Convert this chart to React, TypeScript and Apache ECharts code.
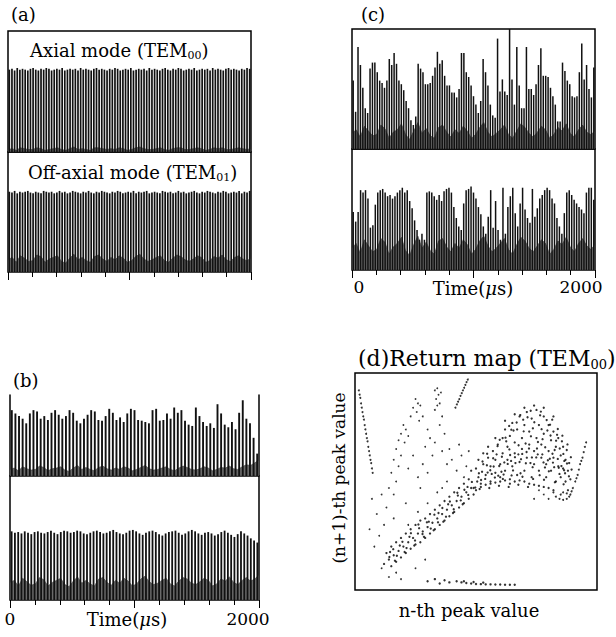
import React, { useEffect, useRef } from "react";
import * as echarts from "echarts";

const SERIF = "'DejaVu Serif', 'Liberation Serif', serif";

// ---------------- data ----------------
// (a) axial mode TEM00 : peak heights of the periodic spike train
const A1_PEAKS = [
  0.98, 0.99, 0.97, 1.0, 0.98, 0.99, 0.98, 0.97, 0.99, 1.0,
  0.98, 0.97, 0.99, 0.98, 1.0, 0.99, 0.97, 0.98, 0.99, 0.98,
  1.0, 0.97, 0.98, 0.99, 0.98, 0.99, 0.97, 1.0, 0.98, 0.99,
  0.98, 0.97, 0.99, 1.0, 0.98, 0.99, 0.98, 0.97, 0.99, 0.98,
  1.0, 0.99, 0.97, 0.98, 0.99, 0.98, 1.0, 0.97, 0.98, 0.99,
  0.98, 0.99, 0.97, 1.0, 0.98, 0.99, 0.98, 0.97, 0.99, 1.0,
  0.98, 0.97, 0.99, 0.98, 1.0, 0.99, 0.97, 0.98, 0.99, 0.98,
  1.0, 0.97, 0.98, 0.99, 0.98, 0.99, 0.97, 1.0, 0.98, 0.99,
  0.98, 0.97, 0.99, 1.0, 0.98, 0.99, 0.98, 0.97, 0.99, 0.98,
  1.0, 0.99,
];
const A1_FLOOR = [
  0.03, 0.04, 0.02, 0.05, 0.04, 0.03, 0.03, 0.05, 0.04, 0.02, 0.03, 0.04, 0.05, 0.03, 0.02,
  0.04, 0.06, 0.03, 0.04, 0.03, 0.02, 0.05, 0.05, 0.04, 0.03, 0.04, 0.03, 0.05, 0.04, 0.02,
  0.03, 0.05, 0.06, 0.04, 0.03, 0.03, 0.04, 0.05, 0.03, 0.02, 0.04, 0.05, 0.05, 0.03, 0.03,
  0.04, 0.05, 0.04, 0.02, 0.03, 0.05, 0.04, 0.05, 0.03, 0.03, 0.04, 0.05, 0.04, 0.03, 0.04,
];
// (a) off-axial mode TEM01
const A2_PEAKS = [
  0.99, 0.98, 1.0, 0.97, 0.99, 0.98, 0.99, 1.0, 0.98, 0.97,
  0.99, 0.98, 0.97, 1.0, 0.99, 0.98, 0.99, 0.97, 0.98, 1.0,
  0.98, 0.99, 0.97, 0.98, 1.0, 0.99, 0.98, 0.97, 0.99, 0.98,
  1.0, 0.98, 0.97, 0.99, 0.98, 1.0, 0.99, 0.98, 0.97, 0.99,
  0.98, 1.0, 0.99, 0.97, 0.98, 0.99, 0.98, 1.0, 0.97, 0.99,
  0.98, 0.99, 1.0, 0.97, 0.98, 0.99, 0.98, 0.97, 1.0, 0.99,
  0.98, 0.99, 0.97, 0.98, 1.0, 0.98, 0.99, 0.97, 0.98, 0.99,
  1.0, 0.98, 0.97, 0.99, 0.98, 1.0, 0.99, 0.98, 0.97, 0.99,
  0.98, 1.0, 0.99, 0.97, 0.98, 0.99, 0.98, 1.0, 0.97, 0.99,
  0.98, 1.0,
];
const A2_FLOOR = [
  0.15, 0.18, 0.12, 0.2, 0.17, 0.13, 0.14, 0.21, 0.19, 0.12, 0.16, 0.18, 0.2, 0.13, 0.11,
  0.17, 0.22, 0.15, 0.18, 0.14, 0.12, 0.19, 0.21, 0.16, 0.13, 0.18, 0.15, 0.2, 0.17, 0.12,
  0.14, 0.19, 0.22, 0.16, 0.13, 0.15, 0.18, 0.2, 0.14, 0.12, 0.17, 0.21, 0.19, 0.15, 0.13,
  0.16, 0.2, 0.18, 0.12, 0.14, 0.19, 0.17, 0.21, 0.15, 0.13, 0.18, 0.2, 0.16, 0.14, 0.17,
];
// (b) upper trace
const B1_PEAKS = [
  1.0, 0.95, 0.91, 0.87, 0.8, 0.95, 1.0, 0.98, 0.87, 0.91, 0.85, 0.96, 1.0, 0.93,
  0.87, 0.91, 1.0, 0.96, 0.84, 0.8, 0.87, 0.93, 1.0, 0.98, 0.85, 0.84, 0.91, 1.02,
  0.96, 0.85, 0.89, 0.82, 0.95, 1.02, 1.0, 0.85, 0.84, 0.82, 0.8, 1.0, 1.02, 0.84,
  0.85, 0.95, 0.87, 1.04, 0.96, 1.0, 0.84, 0.78, 0.76, 1.04, 0.91, 0.82, 0.76, 0.8,
  0.73, 1.09, 0.95, 0.78, 0.74, 0.82, 0.71, 0.96, 1.15, 0.87, 0.8, 0.58, 0.34,
];
const B1_FLOOR = [
  0.1, 0.12, 0.08, 0.14, 0.11, 0.09, 0.1, 0.15, 0.13, 0.08, 0.11, 0.12, 0.14, 0.09, 0.07,
  0.12, 0.16, 0.1, 0.13, 0.1, 0.08, 0.13, 0.15, 0.11, 0.09, 0.12, 0.1, 0.14, 0.12, 0.08,
  0.1, 0.13, 0.16, 0.11, 0.09, 0.1, 0.12, 0.14, 0.1, 0.08, 0.12, 0.15, 0.13, 0.1, 0.09,
  0.11, 0.14, 0.12, 0.08, 0.1, 0.13, 0.12, 0.15, 0.11, 0.1, 0.14, 0.17, 0.16, 0.2, 0.24,
];
// (b) lower trace
const B2_PEAKS = [
  0.98, 0.96, 0.97, 0.95, 0.98, 0.96, 0.94, 0.97, 0.98, 0.96, 0.95, 0.97, 0.99, 0.96,
  0.94, 0.97, 0.99, 0.98, 0.96, 0.97, 0.99, 0.98, 0.95, 0.94, 0.96, 0.98, 0.99, 0.97,
  0.95, 0.96, 0.98, 1.0, 0.97, 0.95, 0.94, 0.96, 0.99, 1.0, 0.98, 0.95, 0.93, 0.96,
  0.98, 0.99, 0.97, 0.94, 0.92, 0.95, 0.97, 0.98, 0.99, 0.96, 0.93, 0.95, 0.98, 1.0,
  0.98, 0.95, 0.93, 0.96, 0.97, 0.95, 0.92, 0.94, 0.97, 0.99, 0.96, 0.93, 0.9, 0.94,
  0.98, 0.95, 0.92, 0.88, 0.85, 0.82,
];
const B2_FLOOR = [
  0.25, 0.28, 0.2, 0.31, 0.26, 0.21, 0.23, 0.32, 0.29, 0.2, 0.25, 0.28, 0.31, 0.22, 0.19,
  0.27, 0.33, 0.24, 0.28, 0.23, 0.2, 0.3, 0.32, 0.25, 0.21, 0.28, 0.24, 0.31, 0.27, 0.2,
  0.23, 0.3, 0.34, 0.26, 0.22, 0.24, 0.28, 0.31, 0.23, 0.2, 0.27, 0.32, 0.3, 0.24, 0.22,
  0.26, 0.31, 0.28, 0.2, 0.23, 0.3, 0.27, 0.33, 0.25, 0.22, 0.28, 0.32, 0.27, 0.3, 0.36,
];
// (c) upper trace (chaotic)
const C1_PEAKS = [
  0.57, 0.31, 0.85, 0.7, 0.51, 0.34, 0.3, 0.67, 0.72, 0.72, 0.64, 0.57, 0.55, 0.51,
  0.57, 0.75, 0.7, 0.8, 0.71, 0.57, 0.54, 0.49, 0.4, 0.34, 0.24, 0.2, 0.27, 0.71,
  0.67, 0.64, 0.54, 0.54, 0.55, 0.61, 0.68, 0.81, 0.71, 0.74, 0.61, 0.53, 0.53, 0.47,
  0.47, 0.43, 0.5, 0.8, 0.8, 0.64, 0.6, 0.53, 0.44, 0.37, 0.3, 0.4, 0.75, 0.64,
  0.53, 0.37, 0.28, 0.26, 0.92, 0.48, 0.58, 0.48, 0.45, 1.0, 0.58, 0.37, 0.85, 0.53,
  0.34, 0.34, 0.85, 0.5, 0.5, 0.45, 0.54, 0.7, 0.84, 0.61, 0.61, 0.6, 0.51, 0.44,
  0.37, 0.23, 0.23, 0.72, 0.65, 0.57, 0.54, 0.44, 0.43, 0.44, 0.64, 0.88, 0.58, 0.7,
  0.5, 0.43, 0.68,
];
const C1_FLOOR = [
  0.13, 0.16, 0.1, 0.19, 0.15, 0.11, 0.12, 0.2, 0.17, 0.09, 0.14, 0.16, 0.21, 0.12, 0.08,
  0.15, 0.22, 0.13, 0.17, 0.11, 0.09, 0.18, 0.2, 0.14, 0.1, 0.16, 0.13, 0.19, 0.15, 0.09,
  0.12, 0.18, 0.22, 0.14, 0.1, 0.13, 0.16, 0.2, 0.12, 0.09, 0.15, 0.21, 0.18, 0.13, 0.1,
  0.14, 0.19, 0.16, 0.09, 0.12, 0.18, 0.15, 0.21, 0.13, 0.1, 0.16, 0.2, 0.14, 0.12, 0.15,
];
// (c) lower trace
const C2_PEAKS = [
  0.48, 0.4, 0.48, 0.66, 0.64, 0.66, 0.59, 0.35, 0.37, 0.54, 0.64, 0.66, 0.67, 0.64,
  0.61, 0.62, 0.59, 0.61, 0.64, 0.66, 0.68, 0.64, 0.66, 0.57, 0.51, 0.41, 0.33, 0.25,
  0.3, 0.25, 0.64, 0.65, 0.64, 0.61, 0.58, 0.62, 0.57, 0.65, 0.67, 0.68, 0.64, 0.52,
  0.43, 0.36, 0.33, 0.55, 0.66, 0.67, 0.69, 0.64, 0.59, 0.52, 0.46, 0.36, 0.3, 0.44,
  0.66, 0.35, 0.57, 0.33, 0.25, 0.68, 0.3, 0.52, 0.61, 0.68, 0.47, 0.36, 0.55, 0.68,
  0.5, 0.43, 0.39, 0.67, 0.44, 0.51, 0.59, 0.62, 0.66, 0.68, 0.66, 0.59, 0.55, 0.43,
  0.36, 0.3, 0.47, 0.64, 0.66, 0.62, 0.58, 0.55, 0.52, 0.5, 0.47, 0.64, 0.68, 0.68,
  0.58,
];
const C2_FLOOR = [
  0.18, 0.22, 0.14, 0.25, 0.2, 0.15, 0.17, 0.26, 0.23, 0.13, 0.19, 0.22, 0.27, 0.16, 0.12,
  0.21, 0.28, 0.18, 0.23, 0.16, 0.13, 0.24, 0.26, 0.19, 0.15, 0.22, 0.18, 0.25, 0.21, 0.13,
  0.17, 0.24, 0.28, 0.2, 0.15, 0.18, 0.22, 0.26, 0.17, 0.13, 0.21, 0.27, 0.24, 0.18, 0.15,
  0.2, 0.25, 0.22, 0.13, 0.17, 0.24, 0.21, 0.27, 0.19, 0.15, 0.22, 0.26, 0.2, 0.17, 0.21,
];

// time axis
const TIME_RANGE = [0, 2000];
const TIME_STEP = 200;
const TIME_MAJOR = 1000;
const TIME_TICK_LABELS = ["0", "2000"];

// (d) return map: [n-th peak, (n+1)-th peak], both normalised 0..1
const RETURN_LEFT_STREAK = [
  [0.016, 0.92], [0.019, 0.9], [0.022, 0.885], [0.025, 0.86], [0.028, 0.84], [0.031, 0.82],
  [0.034, 0.8], [0.037, 0.785], [0.04, 0.76], [0.043, 0.74], [0.046, 0.72], [0.049, 0.7],
  [0.052, 0.685], [0.055, 0.66], [0.058, 0.64], [0.061, 0.62], [0.064, 0.6], [0.067, 0.585],
  [0.07, 0.56], [0.073, 0.54],
];
const RETURN_TOP_STREAK = [
  [0.415, 0.84], [0.421, 0.855], [0.426, 0.868], [0.431, 0.88], [0.436, 0.895], [0.441, 0.907],
  [0.446, 0.92], [0.451, 0.932], [0.456, 0.945], [0.461, 0.958], [0.466, 0.97],
];
const RETURN_FAN = [
  [0.33, 0.92], [0.34, 0.93], [0.345, 0.9], [0.335, 0.88], [0.35, 0.86], [0.34, 0.85],
  [0.355, 0.91], [0.33, 0.83], [0.36, 0.8], [0.35, 0.76], [0.25, 0.88], [0.26, 0.86],
  [0.24, 0.84], [0.27, 0.85], [0.255, 0.82], [0.23, 0.8], [0.28, 0.8], [0.265, 0.78],
  [0.2, 0.76], [0.21, 0.74], [0.19, 0.72], [0.22, 0.71], [0.18, 0.69], [0.205, 0.68],
  [0.17, 0.65], [0.19, 0.62], [0.16, 0.6], [0.18, 0.57], [0.15, 0.54], [0.17, 0.5],
  [0.14, 0.47], [0.16, 0.44], [0.3, 0.74], [0.31, 0.7], [0.29, 0.66], [0.32, 0.62],
  [0.28, 0.58], [0.3, 0.54], [0.26, 0.52], [0.33, 0.68], [0.36, 0.64], [0.24, 0.62],
  [0.22, 0.56], [0.27, 0.47], [0.37, 0.72], [0.38, 0.58], [0.38, 0.5], [0.42, 0.55],
  [0.4, 0.6], [0.44, 0.62], [0.46, 0.57], [0.36, 0.47], [0.43, 0.67], [0.47, 0.64],
  [0.39, 0.65], [0.45, 0.52],
];
const RETURN_BAND_LOWER = [
  [0.12, 0.12], [0.13, 0.17], [0.14, 0.14], [0.15, 0.2], [0.15, 0.11], [0.16, 0.16],
  [0.17, 0.22], [0.17, 0.13], [0.18, 0.18], [0.19, 0.24], [0.19, 0.15], [0.2, 0.2],
  [0.21, 0.26], [0.21, 0.17], [0.22, 0.22], [0.23, 0.28], [0.23, 0.19], [0.24, 0.24],
  [0.25, 0.3], [0.25, 0.21], [0.26, 0.26], [0.27, 0.32], [0.27, 0.22], [0.28, 0.27],
  [0.29, 0.33], [0.29, 0.24], [0.3, 0.29], [0.31, 0.35], [0.31, 0.26], [0.32, 0.31],
  [0.33, 0.37], [0.33, 0.28], [0.34, 0.33], [0.35, 0.39], [0.35, 0.3], [0.36, 0.35],
  [0.37, 0.41], [0.37, 0.32], [0.38, 0.37], [0.39, 0.43], [0.39, 0.34], [0.4, 0.39],
  [0.41, 0.45], [0.41, 0.36], [0.42, 0.41], [0.43, 0.47], [0.43, 0.38], [0.44, 0.43],
  [0.45, 0.49], [0.45, 0.4], [0.46, 0.45], [0.47, 0.51], [0.47, 0.42], [0.48, 0.47],
  [0.49, 0.44], [0.145, 0.175], [0.185, 0.205], [0.225, 0.245], [0.265, 0.285],
  [0.305, 0.315], [0.345, 0.355], [0.385, 0.395], [0.425, 0.435], [0.465, 0.475],
  [0.165, 0.135], [0.205, 0.175], [0.245, 0.205], [0.285, 0.245], [0.325, 0.275],
  [0.365, 0.315], [0.405, 0.355], [0.445, 0.395], [0.142, 0.152], [0.158, 0.188],
  [0.173, 0.158], [0.196, 0.222], [0.213, 0.193], [0.231, 0.262], [0.248, 0.228],
  [0.262, 0.302], [0.279, 0.258], [0.297, 0.312], [0.313, 0.283], [0.328, 0.347],
  [0.343, 0.312], [0.361, 0.378], [0.376, 0.338], [0.392, 0.408], [0.408, 0.372],
  [0.423, 0.448], [0.437, 0.413], [0.452, 0.462], [0.468, 0.438], [0.483, 0.498],
  [0.497, 0.472],
];
const RETURN_SPARSE = [
  [0.1, 0.25], [0.12, 0.3], [0.08, 0.2], [0.11, 0.1], [0.14, 0.06], [0.17, 0.08],
  [0.09, 0.35], [0.13, 0.38], [0.06, 0.28], [0.19, 0.05], [0.22, 0.3], [0.16, 0.33],
  [0.07, 0.42], [0.11, 0.44], [0.26, 0.36], [0.3, 0.4], [0.34, 0.45], [0.21, 0.4],
  [0.25, 0.1], [0.29, 0.14], [0.78, 0.44], [0.8, 0.42], [0.76, 0.46], [0.74, 0.42],
];
const RETURN_CLOUD = [
  [0.49, 0.47], [0.51, 0.52], [0.5, 0.56], [0.52, 0.49], [0.53, 0.58], [0.54, 0.53],
  [0.55, 0.61], [0.56, 0.5], [0.56, 0.57], [0.57, 0.64], [0.58, 0.54], [0.58, 0.6],
  [0.59, 0.67], [0.6, 0.52], [0.6, 0.58], [0.61, 0.63], [0.61, 0.7], [0.62, 0.55],
  [0.62, 0.74], [0.63, 0.6], [0.63, 0.66], [0.64, 0.51], [0.64, 0.71], [0.65, 0.57],
  [0.65, 0.77], [0.66, 0.63], [0.66, 0.68], [0.67, 0.53], [0.67, 0.74], [0.68, 0.59],
  [0.68, 0.8], [0.69, 0.65], [0.69, 0.7], [0.7, 0.55], [0.7, 0.76], [0.71, 0.61],
  [0.71, 0.82], [0.72, 0.67], [0.72, 0.73], [0.73, 0.52], [0.73, 0.79], [0.74, 0.58],
  [0.74, 0.64], [0.75, 0.7], [0.75, 0.83], [0.76, 0.55], [0.76, 0.76], [0.77, 0.61],
  [0.77, 0.67], [0.78, 0.72], [0.78, 0.8], [0.79, 0.52], [0.79, 0.58], [0.8, 0.64],
  [0.8, 0.76], [0.81, 0.69], [0.81, 0.55], [0.82, 0.61], [0.82, 0.73], [0.83, 0.5],
  [0.83, 0.66], [0.84, 0.57], [0.84, 0.7], [0.85, 0.62], [0.85, 0.52], [0.86, 0.66],
  [0.86, 0.56], [0.87, 0.6], [0.87, 0.5], [0.88, 0.55], [0.88, 0.46], [0.89, 0.51],
  [0.505, 0.5], [0.525, 0.545], [0.545, 0.575], [0.565, 0.535], [0.585, 0.625],
  [0.605, 0.545], [0.625, 0.685], [0.645, 0.595], [0.655, 0.735], [0.675, 0.625],
  [0.695, 0.785], [0.705, 0.675], [0.725, 0.585], [0.735, 0.745], [0.755, 0.625],
  [0.765, 0.805], [0.775, 0.695], [0.785, 0.565], [0.795, 0.735], [0.805, 0.605],
  [0.815, 0.785], [0.825, 0.645], [0.835, 0.715], [0.845, 0.535], [0.855, 0.685],
  [0.865, 0.595], [0.875, 0.645], [0.885, 0.585], [0.895, 0.555], [0.62, 0.78],
  [0.66, 0.81], [0.7, 0.84], [0.74, 0.85], [0.78, 0.84], [0.82, 0.8], [0.58, 0.7],
  [0.55, 0.66], [0.53, 0.63], [0.51, 0.6], [0.48, 0.55], [0.5, 0.46], [0.52, 0.475],
  [0.54, 0.485], [0.56, 0.49], [0.58, 0.495], [0.6, 0.5], [0.62, 0.505], [0.64, 0.49],
  [0.66, 0.5], [0.68, 0.505], [0.7, 0.5], [0.72, 0.49], [0.74, 0.485], [0.76, 0.48],
  [0.78, 0.475], [0.8, 0.47], [0.82, 0.46], [0.515, 0.465], [0.555, 0.47], [0.595, 0.48],
  [0.635, 0.475], [0.675, 0.485], [0.715, 0.475],
];
const RETURN_CLOUD_CORE = [
  [0.512, 0.538], [0.527, 0.592], [0.538, 0.512], [0.546, 0.628], [0.559, 0.552],
  [0.571, 0.607], [0.578, 0.518], [0.589, 0.663], [0.596, 0.571], [0.607, 0.614],
  [0.614, 0.532], [0.622, 0.702], [0.631, 0.581], [0.638, 0.648], [0.646, 0.739],
  [0.653, 0.551], [0.661, 0.612], [0.668, 0.772], [0.676, 0.667], [0.684, 0.538],
  [0.691, 0.627], [0.697, 0.731], [0.706, 0.584], [0.713, 0.796], [0.719, 0.652],
  [0.727, 0.708], [0.734, 0.566], [0.741, 0.773], [0.749, 0.611], [0.756, 0.682],
  [0.763, 0.529], [0.771, 0.741], [0.779, 0.588], [0.786, 0.658], [0.792, 0.783],
  [0.801, 0.547], [0.808, 0.712], [0.816, 0.628], [0.823, 0.566], [0.831, 0.688],
  [0.838, 0.604], [0.846, 0.652], [0.853, 0.571], [0.861, 0.627], [0.868, 0.538],
  [0.876, 0.583], [0.884, 0.524], [0.521, 0.507], [0.548, 0.541], [0.573, 0.569],
  [0.592, 0.527], [0.617, 0.588], [0.641, 0.622], [0.663, 0.585], [0.686, 0.603],
  [0.709, 0.636], [0.731, 0.611], [0.752, 0.652], [0.774, 0.625], [0.797, 0.598],
  [0.818, 0.587], [0.842, 0.563], [0.864, 0.552], [0.611, 0.512], [0.647, 0.528],
  [0.692, 0.522], [0.736, 0.512], [0.781, 0.508], [0.826, 0.496], [0.862, 0.487],
  [0.598, 0.692], [0.637, 0.756], [0.683, 0.806], [0.726, 0.826], [0.768, 0.822],
  [0.806, 0.762], [0.838, 0.742], [0.857, 0.711], [0.878, 0.671], [0.892, 0.612],
];
const RETURN_HOOK = [
  [0.82, 0.45], [0.83, 0.43], [0.845, 0.42], [0.86, 0.415], [0.875, 0.42], [0.885, 0.43],
  [0.875, 0.445], [0.86, 0.45], [0.85, 0.44], [0.89, 0.44], [0.9, 0.47], [0.91, 0.5],
  [0.92, 0.53], [0.925, 0.555], [0.93, 0.58], [0.94, 0.61], [0.945, 0.635], [0.95, 0.66],
  [0.955, 0.68], [0.895, 0.455], [0.915, 0.515], [0.935, 0.595],
];
const RETURN_BOTTOM = [
  [0.42, 0.04], [0.44, 0.035], [0.46, 0.032], [0.48, 0.03], [0.5, 0.028], [0.52, 0.027],
  [0.54, 0.026], [0.56, 0.026], [0.58, 0.025], [0.6, 0.025], [0.62, 0.024], [0.64, 0.024],
  [0.66, 0.024], [0.45, 0.04], [0.49, 0.037], [0.53, 0.034], [0.3, 0.04], [0.33, 0.05],
  [0.35, 0.03], [0.37, 0.045], [0.39, 0.035],
];

// ---------------- layout ----------------
type Panel = {
  grid: { left: number; top: number; width: number; height: number };
  peaks: number[];
  floor: number[];
  yMax: number;
  barWidth: number;
  frame: "full" | "sides";
  ticks?: boolean;
  labels?: { margin: number; first: number[]; last: number[] };
};

const PANELS: Panel[] = [
  { grid: { left: 8, top: 31, width: 243, height: 121 }, peaks: A1_PEAKS, floor: A1_FLOOR, yMax: 1.44, barWidth: 1.7, frame: "full" },
  { grid: { left: 8, top: 152, width: 243, height: 120 }, peaks: A2_PEAKS, floor: A2_FLOOR, yMax: 1.48, barWidth: 1.7, frame: "full", ticks: true },
  { grid: { left: 10, top: 395, width: 249, height: 81 }, peaks: B1_PEAKS, floor: B1_FLOOR, yMax: 1.23, barWidth: 1.9, frame: "sides" },
  { grid: { left: 10, top: 476, width: 249, height: 124 }, peaks: B2_PEAKS, floor: B2_FLOOR, yMax: 1.77, barWidth: 1.8, frame: "full", ticks: true, labels: { margin: 10, first: [0, 0, 0, 0], last: [0, 22, 0, 0] } },
  { grid: { left: 352, top: 29, width: 243, height: 120 }, peaks: C1_PEAKS, floor: C1_FLOOR, yMax: 1.0, barWidth: 1.5, frame: "full" },
  { grid: { left: 352, top: 149, width: 243, height: 121 }, peaks: C2_PEAKS, floor: C2_FLOOR, yMax: 1.0, barWidth: 1.5, frame: "full", ticks: true, labels: { margin: 8, first: [0, 0, 0, 14], last: [0, 28, 0, 0] } },
];

function sub(main: string, subscript: string, tail: string, size: number) {
  return {
    text: `{m|${main}}{s|${subscript}}{m|${tail}}`,
    rich: {
      m: { fontSize: size, fontFamily: SERIF, fill: "#000", color: "#000", lineHeight: size + 4 },
      s: { fontSize: Math.round(size * 0.6), fontFamily: SERIF, fill: "#000", color: "#000", lineHeight: Math.round(size * 0.6), verticalAlign: "bottom" },
    },
  };
}

function textEl(x: number, y: number, style: any, align = "left", rotation = 0) {
  return {
    type: "text",
    x,
    y,
    rotation,
    silent: true,
    style: { fill: "#000", align, verticalAlign: "middle", textAlign: align, textVerticalAlign: "middle", ...style },
  };
}

function timeLabel(x: number, y: number) {
  return textEl(x, y, {
    text: "{n|Time(}{i|μ}{n|s)}",
    rich: {
      n: { fontSize: 18, fontFamily: SERIF, fill: "#000", color: "#000" },
      i: { fontSize: 18, fontFamily: SERIF, fontStyle: "italic", fill: "#000", color: "#000" },
    },
  }, "center");
}

function buildOption() {
  const grid: any[] = [];
  const xAxis: any[] = [];
  const yAxis: any[] = [];
  const series: any[] = [];

  PANELS.forEach((p, gi) => {
    grid.push({ ...p.grid, show: p.frame === "full", borderColor: "#000", borderWidth: 1.5, backgroundColor: "rgba(0,0,0,0)" });
    const sx = xAxis.length;
    xAxis.push({ type: "category", gridIndex: gi, data: p.peaks.map((_, i) => i), show: false, boundaryGap: true });
    const fx = xAxis.length;
    xAxis.push({ type: "category", gridIndex: gi, data: p.floor.map((_, i) => i), show: false, boundaryGap: false });
    if (p.ticks) {
      xAxis.push({
        type: "value", gridIndex: gi, position: "bottom", min: TIME_RANGE[0], max: TIME_RANGE[1], interval: TIME_STEP,
        axisLine: { show: false }, axisTick: { show: true, length: 5, lineStyle: { color: "#000", width: 1 } },
        axisLabel: { show: false }, splitLine: { show: false },
      });
      const lab = p.labels;
      xAxis.push({
        type: "value", gridIndex: gi, position: "bottom", min: TIME_RANGE[0], max: TIME_RANGE[1], interval: TIME_MAJOR,
        axisLine: { show: false }, axisTick: { show: true, length: 8, lineStyle: { color: "#000", width: 1 } },
        splitLine: { show: false },
        axisLabel: lab
          ? {
              show: true, margin: lab.margin, showMinLabel: true, showMaxLabel: true,
              formatter: (v: number) =>
                v === TIME_RANGE[0] ? `{f|${TIME_TICK_LABELS[0]}}` : v === TIME_RANGE[1] ? `{l|${TIME_TICK_LABELS[1]}}` : "",
              rich: {
                f: { fontSize: 17, fontFamily: SERIF, color: "#000", padding: lab.first },
                l: { fontSize: 17, fontFamily: SERIF, color: "#000", padding: lab.last },
              },
            }
          : { show: false },
      });
    }
    const yi = yAxis.length;
    const sides = p.frame === "sides";
    const yBase = {
      type: "value", gridIndex: gi, min: 0, max: p.yMax, show: sides,
      axisLine: { show: true, onZero: false, lineStyle: { color: "#000", width: 1.5 } },
      axisTick: { show: false }, axisLabel: { show: false }, splitLine: { show: false },
    };
    yAxis.push({ ...yBase, position: "left" });
    if (sides) yAxis.push({ ...yBase, position: "right" });

    series.push({
      type: "line", xAxisIndex: fx, yAxisIndex: yi, data: p.floor, symbol: "none", silent: true, z: 1,
      lineStyle: { color: "#444", width: 0.6 }, areaStyle: { color: "#5a5a5a", opacity: 0.9 },
    });
    series.push({
      type: "bar", xAxisIndex: sx, yAxisIndex: yi, data: p.peaks, barWidth: p.barWidth, silent: true, z: 2,
      itemStyle: { color: "#111" },
    });
  });

  // (d) return map
  const dg = grid.length;
  grid.push({ left: 355, top: 373, width: 242, height: 217, show: true, borderColor: "#000", borderWidth: 1.5, backgroundColor: "rgba(0,0,0,0)" });
  const dx = xAxis.length;
  xAxis.push({ type: "value", gridIndex: dg, min: 0, max: 1, show: false, splitLine: { show: false } });
  const dy = yAxis.length;
  yAxis.push({ type: "value", gridIndex: dg, min: 0, max: 1, show: false, splitLine: { show: false } });
  const scatterSets: [number[][], number][] = [
    [RETURN_LEFT_STREAK, 2],
    [RETURN_TOP_STREAK, 2],
    [RETURN_FAN, 1.8],
    [RETURN_SPARSE, 1.8],
    [RETURN_BAND_LOWER, 2.3],
    [RETURN_CLOUD, 2.3],
    [RETURN_CLOUD_CORE, 2.3],
    [RETURN_HOOK, 2],
    [RETURN_BOTTOM, 2.4],
  ];
  scatterSets.forEach(([data, size]) => {
    series.push({
      type: "scatter", xAxisIndex: dx, yAxisIndex: dy, data, symbol: "circle", symbolSize: size, silent: true,
      itemStyle: { color: "#000" },
    });
  });

  const graphic = [
    textEl(11, 14, { text: "(a)", fontSize: 18, fontFamily: SERIF }),
    textEl(361, 14, { text: "(c)", fontSize: 18, fontFamily: SERIF }),
    textEl(13, 380, { text: "(b)", fontSize: 18, fontFamily: SERIF }),
    textEl(30, 50, sub("Axial mode (TEM", "00", ")", 18)),
    textEl(28, 172, sub("Off-axial mode (TEM", "01", ")", 18)),
    timeLabel(127, 619),
    timeLabel(473, 288),
    textEl(358, 358, sub("(d)Return map (TEM", "00", ")", 22)),
    textEl(339, 478, { text: "(n+1)-th peak value", fontSize: 17, fontFamily: SERIF }, "center", Math.PI / 2),
    textEl(469, 610, { text: "n-th peak value", fontSize: 18, fontFamily: SERIF }, "center"),
  ];

  return { animation: false, backgroundColor: "#fff", grid, xAxis, yAxis, series, graphic };
}

export default function App() {
  const ref = useRef<HTMLDivElement>(null);
  useEffect(() => {
    if (!ref.current) return;
    const chart = echarts.init(ref.current, null, { renderer: "svg" });
    chart.setOption(buildOption() as any);
    return () => chart.dispose();
  }, []);
  return (
    <div
      ref={ref}
      style={{ position: "fixed", left: 0, top: 0, width: 616, height: 637, background: "#fff" }}
    />
  );
}
